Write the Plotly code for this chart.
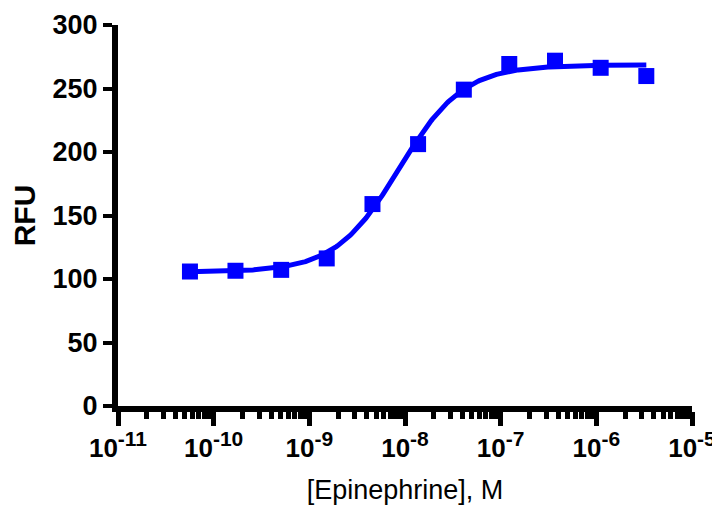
import numpy as np
import plotly.graph_objects as go

# Data (3-fold dilution series)
conc_M = [5.65e-11, 1.69e-10, 5.08e-10, 1.52e-9, 4.57e-9, 1.37e-8,
          4.12e-8, 1.23e-7, 3.70e-7, 1.11e-6, 3.33e-6]
rfu = [105.9, 106.5, 107.2, 116.2, 159.0, 206.2, 249.1, 269.3, 271.9, 266.3, 259.8]

# 4-parameter logistic fit parameters (estimated from the drawn curve)
fit_bottom = 105.5
fit_top = 268.5
fit_log_ec50 = -8.06
fit_hill = 1.3

x_tick_vals = [1e-11, 1e-10, 1e-9, 1e-8, 1e-7, 1e-6, 1e-5]
x_tick_exps = ["-11", "-10", "-9", "-8", "-7", "-6", "-5"]
x_tick_text = ["10<sup><span style='font-size:21px'>%s</span></sup>" % e for e in x_tick_exps]
y_tick_vals = [0, 50, 100, 150, 200, 250, 300]

minor_vals = [m * d for d in x_tick_vals[:-1] for m in range(2, 10)]

logx = np.linspace(np.log10(conc_M[0]), np.log10(conc_M[-1]), 400)
curve_y = fit_bottom + (fit_top - fit_bottom) / (1 + 10 ** ((fit_log_ec50 - logx) * fit_hill))

BLUE = "#0000FF"
FONT = "Liberation Sans, Arial, Helvetica, sans-serif"

fig = go.Figure()
fig.add_trace(go.Scatter(x=10 ** logx, y=curve_y, mode="lines",
                         line=dict(color=BLUE, width=5), hoverinfo="skip", showlegend=False))
fig.add_trace(go.Scatter(x=conc_M, y=rfu, mode="markers",
                         marker=dict(symbol="square", size=16, color=BLUE, line=dict(width=0)),
                         showlegend=False))

# page body has an 8px default margin, so the figure is 712x498 placed at (8, 8)
fig.update_layout(
    width=712, height=498,
    margin=dict(l=110, r=28, t=17, b=100),
    paper_bgcolor="white", plot_bgcolor="white",
    font=dict(family=FONT, color="black"),
    xaxis=dict(
        type="log", range=[-11, -5], automargin=False,
        showline=True, linewidth=6, linecolor="black", mirror=False,
        showgrid=False, zeroline=False,
        ticks="outside", ticklen=14, tickwidth=5, tickcolor="black",
        tickmode="array", tickvals=x_tick_vals, ticktext=x_tick_text,
        tickfont=dict(family=FONT, size=26, color="black", weight="bold"),
        minor=dict(ticks="outside", ticklen=7, tickwidth=5, tickcolor="black",
                   tickmode="array", tickvals=minor_vals, showgrid=False),
        title=dict(text="[Epinephrine], M", standoff=20,
                   font=dict(family=FONT, size=27, color="black")),
    ),
    yaxis=dict(
        range=[0, 300], automargin=False,
        showline=True, linewidth=6, linecolor="black",
        showgrid=False, zeroline=False,
        ticks="outside", ticklen=9, tickwidth=4, tickcolor="black",
        tickmode="array", tickvals=y_tick_vals,
        tickfont=dict(family=FONT, size=27, color="black", weight="bold"),
        title=dict(text="RFU", standoff=14,
                   font=dict(family=FONT, size=30, color="black", weight="bold")),
    ),
)

fig.write_html("out.html")
